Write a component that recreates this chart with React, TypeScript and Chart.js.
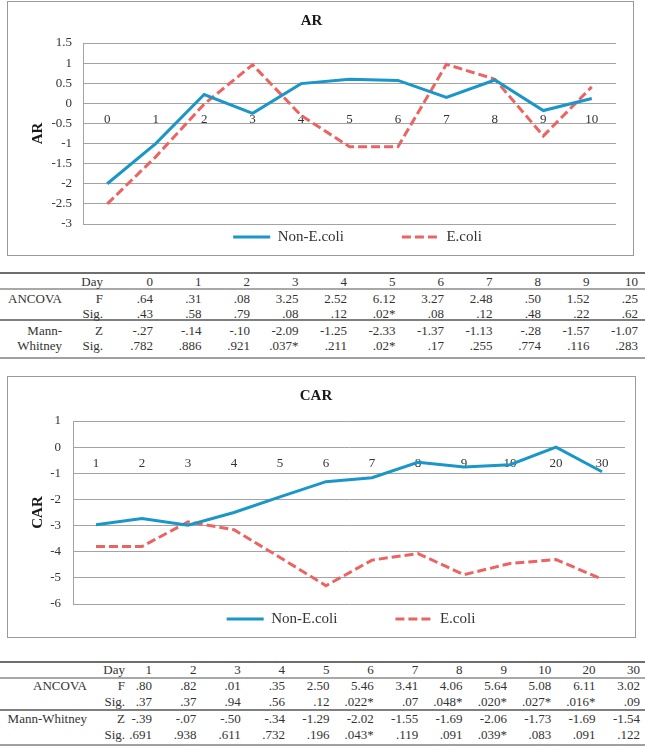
import React, { useEffect, useRef } from 'react';
import { Chart, registerables } from 'chart.js';

Chart.register(...registerables);

const FONT = "'Liberation Serif', 'Times New Roman', serif";
const BLUE = '#1A96C8';
const RED = '#EC6461';
const GRID = '#a3a3a3';
const TEXT = '#333333';

// ---------- AR chart data ----------
const arDays = ['0', '1', '2', '3', '4', '5', '6', '7', '8', '9', '10'];
const arNonEcoli = [-2.0, -1.0, 0.22, -0.25, 0.49, 0.6, 0.57, 0.15, 0.58, -0.18, 0.12];
const arEcoli = [-2.5, -1.33, -0.02, 0.96, -0.3, -1.08, -1.08, 0.97, 0.6, -0.81, 0.41];

// ---------- CAR chart data ----------
const carDays = ['1', '2', '3', '4', '5', '6', '7', '8', '9', '10', '20', '30'];
const carNonEcoli = [-2.97, -2.73, -2.99, -2.5, -1.9, -1.32, -1.17, -0.58, -0.76, -0.67, 0.0, -0.94];
const carEcoli = [-3.8, -3.8, -2.86, -3.16, -4.22, -5.3, -4.32, -4.07, -4.88, -4.45, -4.3, -5.05];

// ---------- AR table ----------
const arF = ['.64', '.31', '.08', '3.25', '2.52', '6.12', '3.27', '2.48', '.50', '1.52', '.25'];
const arFSig = ['.43', '.58', '.79', '.08', '.12', '.02*', '.08', '.12', '.48', '.22', '.62'];
const arZ = ['-.27', '-.14', '-.10', '-2.09', '-1.25', '-2.33', '-1.37', '-1.13', '-.28', '-1.57', '-1.07'];
const arZSig = ['.782', '.886', '.921', '.037*', '.211', '.02*', '.17', '.255', '.774', '.116', '.283'];

// ---------- CAR table ----------
const carF = ['.80', '.82', '.01', '.35', '2.50', '5.46', '3.41', '4.06', '5.64', '5.08', '6.11', '3.02'];
const carFSig = ['.37', '.37', '.94', '.56', '.12', '.022*', '.07', '.048*', '.020*', '.027*', '.016*', '.09'];
const carZ = ['-.39', '-.07', '-.50', '-.34', '-1.29', '-2.02', '-1.55', '-1.69', '-2.06', '-1.73', '-1.69', '-1.54'];
const carZSig = ['.691', '.938', '.611', '.732', '.196', '.043*', '.119', '.091', '.039*', '.083', '.091', '.122'];

const LEGEND_FONT = 15;
const LEGEND_PAD = 58;

const legendShift = {
  id: 'legendShift',
  afterLayout(chart: any, _args: any, opts: any) {
    const L = chart.legend;
    if (!L || opts == null || opts.y == null) return;
    L.top = opts.y - LEGEND_PAD - LEGEND_FONT / 2;
    L.bottom = opts.y + LEGEND_FONT;
    L.height = L.bottom - L.top;
    const dx = opts.dx || 0;
    L.left += dx;
    L.right += dx;
  },
};

type Box = { x: number; y: number; w: number; h: number };
type Area = { left: number; right: number; top: number; bottom: number };

function LineChart(props: {
  title: string;
  labels: string[];
  nonEcoli: number[];
  ecoli: number[];
  yMin: number;
  yMax: number;
  yStep: number;
  box: Box;
  area: Area;
  titleCenter: number;
  legendY: number;
  legendDx: number;
  yTickPad: number;
  xTickPad: number;
}) {
  const ref = useRef<HTMLCanvasElement>(null);
  const p = props;
  useEffect(() => {
    const titleLH = 15 * 1.2;
    const padTop = p.titleCenter - titleLH / 2;
    const padBottom = p.area.top - padTop - titleLH;
    const chart = new Chart(ref.current as HTMLCanvasElement, {
      type: 'line',
      data: {
        labels: p.labels,
        datasets: [
          {
            label: 'Non-E.coli',
            data: p.nonEcoli,
            borderColor: BLUE,
            backgroundColor: BLUE,
            borderWidth: 3,
            pointRadius: 0,
            tension: 0,
            fill: false,
          },
          {
            label: 'E.coli',
            data: p.ecoli,
            borderColor: RED,
            backgroundColor: RED,
            borderWidth: 3,
            borderDash: [9, 4],
            pointRadius: 0,
            tension: 0,
            fill: false,
          },
        ],
      },
      options: {
        responsive: false,
        animation: false,
        devicePixelRatio: 1,
        layout: { padding: { left: 0, right: p.box.w - p.area.right, top: 0, bottom: 0 } },
        scales: {
          x: {
            type: 'category',
            position: { y: 0 } as any,
            offset: true,
            grid: { display: false, drawTicks: false },
            border: { display: false },
            ticks: {
              padding: p.xTickPad,
              font: { family: FONT, size: 13 },
              color: TEXT,
              maxRotation: 0,
              autoSkip: false,
            },
          },
          y: {
            type: 'linear',
            min: p.yMin,
            max: p.yMax,
            ticks: {
              stepSize: p.yStep,
              padding: p.yTickPad,
              font: { family: FONT, size: 13 },
              color: TEXT,
              callback: (v: any) => String(v),
            },
            grid: { color: GRID, lineWidth: 1, drawTicks: false },
            border: { display: true, color: GRID, width: 1 },
            title: {
              display: true,
              text: p.title,
              font: { family: FONT, size: 15, weight: 'bold' },
              color: '#1a1a1a',
              padding: { top: 22, bottom: 0 },
            },
            afterFit: (s: any) => {
              s.width = p.area.left;
            },
          },
        },
        plugins: {
          title: {
            display: true,
            text: p.title,
            font: { family: FONT, size: 15, weight: 'bold' },
            color: '#1a1a1a',
            padding: { top: padTop, bottom: padBottom },
          },
          legend: {
            display: true,
            position: 'bottom',
            fullSize: false,
            maxHeight: p.box.h - p.area.bottom,
            labels: {
              font: { family: FONT, size: LEGEND_FONT },
              color: TEXT,
              padding: LEGEND_PAD,
              usePointStyle: true,
              pointStyleWidth: 37,
              generateLabels: (c: any) =>
                c.data.datasets.map((ds: any, i: number) => ({
                  text: ds.label,
                  strokeStyle: ds.borderColor,
                  fillStyle: ds.borderColor,
                  fontColor: TEXT,
                  lineWidth: 3,
                  lineDash: ds.borderDash || [],
                  lineCap: 'butt',
                  pointStyle: 'line',
                  hidden: false,
                  datasetIndex: i,
                })),
            },
          },
          tooltip: { enabled: false },
          legendShift: { y: p.legendY, dx: p.legendDx },
        } as any,
      },
      plugins: [legendShift],
    });
    return () => chart.destroy();
  }, []);
  return (
    <>
      <div
        style={{
          position: 'absolute',
          left: p.box.x,
          top: p.box.y,
          width: p.box.w - 2,
          height: p.box.h - 2,
          border: '1px solid #9a9a9a',
          background: '#fff',
        }}
      />
      <canvas
        ref={ref}
        width={p.box.w}
        height={p.box.h}
        style={{ position: 'absolute', left: p.box.x, top: p.box.y, width: p.box.w, height: p.box.h }}
      />
    </>
  );
}

function Cell(props: { x: number; y: number; text: string; align?: 'left' | 'right' }) {
  const style: any = {
    position: 'absolute',
    top: props.y - 8,
    height: 16,
    lineHeight: '16px',
    whiteSpace: 'nowrap',
    fontFamily: FONT,
    fontSize: 13,
    color: TEXT,
  };
  if (props.align === 'left') style.left = props.x;
  else style.right = 645 - props.x;
  return <div style={style}>{props.text}</div>;
}

function HLine(props: { y: number; color: string; h?: number }) {
  return (
    <div
      style={{
        position: 'absolute',
        left: 0,
        width: 645,
        top: props.y - 1,
        height: props.h || 2,
        background: props.color,
      }}
    />
  );
}

function StatTable(props: {
  days: string[];
  f: string[];
  fSig: string[];
  z: string[];
  zSig: string[];
  lines: number[];
  rows: number[];
  labelRight: number;
  subRight: number;
  firstCol: number;
  colStep: number;
  twoLineMW: boolean;
}) {
  const p = props;
  const xs = p.days.map((_, i) => p.firstCol + p.colStep * i);
  const [rDay, rF, rFS, rZ, rZS] = p.rows;
  const out: any[] = [];
  out.push(<HLine key="l0" y={p.lines[0]} color="#6e6e6e" />);
  out.push(<HLine key="l1" y={p.lines[1]} color="#a8a8a8" />);
  out.push(<HLine key="l2" y={p.lines[2]} color="#808080" />);
  out.push(<HLine key="l3" y={p.lines[3]} color="#a0a0a0" />);
  out.push(<Cell key="day" x={p.subRight} y={rDay} text="Day" />);
  out.push(<Cell key="F" x={p.subRight} y={rF} text="F" />);
  out.push(<Cell key="fs" x={p.subRight} y={rFS} text="Sig." />);
  out.push(<Cell key="Z" x={p.subRight} y={rZ} text="Z" />);
  out.push(<Cell key="zs" x={p.subRight} y={rZS} text="Sig." />);
  out.push(<Cell key="anc" x={p.labelRight} y={rF} text="ANCOVA" />);
  if (p.twoLineMW) {
    out.push(<Cell key="mw1" x={p.labelRight} y={rZ} text="Mann-" />);
    out.push(<Cell key="mw2" x={p.labelRight} y={rZS} text="Whitney" />);
  } else {
    out.push(<Cell key="mw" x={p.labelRight} y={rZ} text="Mann-Whitney" />);
  }
  p.days.forEach((d, i) => {
    out.push(<Cell key={'d' + i} x={xs[i]} y={rDay} text={d} />);
    out.push(<Cell key={'f' + i} x={xs[i]} y={rF} text={p.f[i]} />);
    out.push(<Cell key={'fs' + i} x={xs[i]} y={rFS} text={p.fSig[i]} />);
    out.push(<Cell key={'z' + i} x={xs[i]} y={rZ} text={p.z[i]} />);
    out.push(<Cell key={'zs' + i} x={xs[i]} y={rZS} text={p.zSig[i]} />);
  });
  return <>{out}</>;
}

export default function App() {
  useEffect(() => {
    document.body.style.margin = '0';
    document.body.style.background = '#fff';
  }, []);
  return (
    <div style={{ position: 'absolute', left: 0, top: 0, width: 645, height: 748, background: '#fff', overflow: 'hidden' }}>
      <LineChart
        title="AR"
        labels={arDays}
        nonEcoli={arNonEcoli}
        ecoli={arEcoli}
        yMin={-3}
        yMax={1.5}
        yStep={0.5}
        box={{ x: 7, y: 1, w: 627, h: 255 }}
        area={{ left: 76, right: 609, top: 42, bottom: 223 }}
        titleCenter={20}
        legendY={236}
        legendDx={8}
        yTickPad={11}
        xTickPad={8}
      />
      <StatTable
        days={arDays}
        f={arF}
        fSig={arFSig}
        z={arZ}
        zSig={arZSig}
        lines={[273, 289, 320, 358]}
        rows={[281.5, 299, 313.5, 330.5, 345.5]}
        labelRight={62}
        subRight={103}
        firstCol={153}
        colStep={48.5}
        twoLineMW={true}
      />
      <LineChart
        title="CAR"
        labels={carDays}
        nonEcoli={carNonEcoli}
        ecoli={carEcoli}
        yMin={-6}
        yMax={1}
        yStep={1}
        box={{ x: 7, y: 376, w: 629, h: 262 }}
        area={{ left: 66, right: 618, top: 45, bottom: 228 }}
        titleCenter={20}
        legendY={243}
        legendDx={2}
        yTickPad={12}
        xTickPad={9}
      />
      <StatTable
        days={carDays}
        f={carF}
        fSig={carFSig}
        z={carZ}
        zSig={carZSig}
        lines={[662, 678, 710, 745]}
        rows={[670, 686, 702, 719, 735]}
        labelRight={87}
        subRight={125}
        firstCol={152}
        colStep={44.36}
        twoLineMW={false}
      />
    </div>
  );
}
